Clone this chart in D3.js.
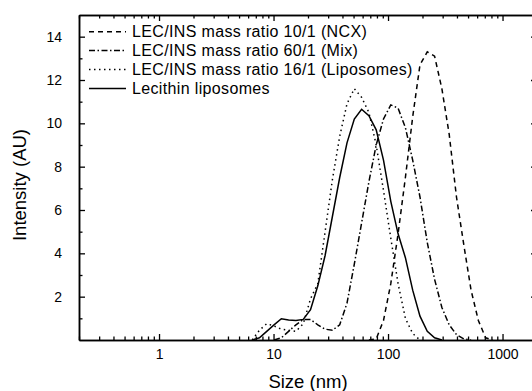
<!DOCTYPE html>
<html>
<head>
<meta charset="utf-8">
<script src="https://cdn.jsdelivr.net/npm/d3@7"></script>
<style>
    body { margin: 0; background: #fff; }
    svg { display: block; font-family: "Liberation Sans", Arial, sans-serif; }
</style>
</head>
<body>
<div id="chart"></div>
<script>
// particle size bins (nm)
const sizes = [6.503, 7.531, 8.721, 10.10, 11.70, 13.54, 15.69, 18.17, 21.04, 24.36, 28.21, 32.67,
    37.84, 43.82, 50.75, 58.77, 68.06, 78.82, 91.28, 105.7, 122.4, 141.8, 164.2, 190.1, 220.2,
    255.0, 295.3, 342.0, 396.1, 458.7, 531.2, 615.1, 712.4, 825.0];

// intensity (AU) per bin, one array per sample
const ncx = [0, 0, 0, 0, 0, 0, 0, 0, 0, 0, 0, 0,
    0, 0, 0, 0, 0, 0.05, 0.9, 2.6, 4.9, 7.5, 10.3, 12.7, 13.3,
    13.1, 11.6, 9.5, 6.6, 4.4, 2.3, 0.9, 0.1, 0];
const mix = [0, 0, 0, 0, 0.1, 0.4, 0.7, 0.95, 0.95, 0.7, 0.5, 0.45,
    0.7, 1.7, 3.5, 5.4, 7.3, 9.0, 10.2, 10.85, 10.7, 9.8, 8.3, 6.6, 4.5,
    2.8, 1.5, 0.7, 0.25, 0.05, 0, 0, 0, 0];
const lipo16 = [0, 0.45, 0.75, 0.65, 0.5, 0.45, 0.4, 0.75, 1.9, 2.6, 5.0, 7.4,
    9.4, 10.9, 11.6, 11.2, 10.5, 9.0, 6.9, 4.7, 2.6, 1.0, 0.3, 0, 0,
    0, 0, 0, 0, 0, 0, 0, 0, 0];
const lecithin = [0, 0.1, 0.4, 0.7, 0.98, 0.92, 0.9, 0.95, 1.4, 2.5, 3.9, 5.7,
    7.5, 9.1, 10.2, 10.65, 10.35, 9.7, 8.3, 6.4, 4.9, 3.8, 2.3, 1.1, 0.4,
    0.1, 0, 0, 0, 0, 0, 0, 0, 0];

const seriesNames = ["LEC/INS mass ratio 10/1 (NCX)", "LEC/INS mass ratio 60/1 (Mix)",
    "LEC/INS mass ratio 16/1 (Liposomes)", "Lecithin liposomes"];
const seriesDash = ["5,4", "6,2.5,1.5,2.5", "1.5,3.5", null];

const xMajor = [1, 10, 100, 1000];
const xMinor = [0.2, 0.3, 0.4, 0.5, 0.6, 0.7, 0.8, 0.9, 2, 3, 4, 5, 6, 7, 8, 9,
    20, 30, 40, 50, 60, 70, 80, 90, 200, 300, 400, 500, 600, 700, 800, 900, 2000];
const yMajor = [2, 4, 6, 8, 10, 12, 14];
const yMinor = [1, 3, 5, 7, 9, 11, 13];

const width = 532, height = 391;
const margin = { top: 15, right: -5, bottom: 51, left: 79 };

let svg = d3.select("#chart").append("svg")
    .attr("width", width)
    .attr("height", height);

let x = d3.scaleLog().domain([0.2, 2000]).range([margin.left, width - margin.right]);
let y = d3.scaleLinear().domain([0, 15]).range([height - margin.bottom, margin.top]);

// frame axes, ticks inward
function styleAxis(g) {
    g.selectAll("path.domain").attr("stroke", "#000").attr("stroke-width", 1.5);
    g.selectAll(".tick line").attr("stroke", "#000").attr("stroke-width", 1.3);
    g.selectAll(".tick text").attr("font-size", 14).attr("fill", "#000")
        .attr("font-family", "'Liberation Sans', Arial, sans-serif");
}

const x0 = margin.left, x1 = width - margin.right, y0 = height - margin.bottom, y1 = margin.top;

svg.append("g").attr("transform", `translate(0,${y0})`)
    .call(d3.axisBottom(x).tickValues(xMajor).tickFormat(d3.format("d")).tickSize(-6).tickSizeOuter(0).tickPadding(9))
    .call(styleAxis);
svg.append("g").attr("transform", `translate(0,${y0})`)
    .call(d3.axisBottom(x).tickValues(xMinor).tickFormat("").tickSize(-3.5).tickSizeOuter(0))
    .call(styleAxis);
svg.append("g").attr("transform", `translate(0,${y1})`)
    .call(d3.axisTop(x).tickValues(xMajor).tickFormat("").tickSize(-6).tickSizeOuter(0))
    .call(styleAxis);
svg.append("g").attr("transform", `translate(0,${y1})`)
    .call(d3.axisTop(x).tickValues(xMinor).tickFormat("").tickSize(-3.5).tickSizeOuter(0))
    .call(styleAxis);

svg.append("g").attr("transform", `translate(${x0},0)`)
    .call(d3.axisLeft(y).tickValues(yMajor).tickSize(-6).tickSizeOuter(0).tickPadding(17))
    .call(styleAxis);
svg.append("g").attr("transform", `translate(${x0},0)`)
    .call(d3.axisLeft(y).tickValues(yMinor).tickFormat("").tickSize(-3.5).tickSizeOuter(0))
    .call(styleAxis);
svg.append("g").attr("transform", `translate(${x1},0)`)
    .call(d3.axisRight(y).tickValues(yMajor).tickFormat("").tickSize(-6).tickSizeOuter(0))
    .call(styleAxis);
svg.append("g").attr("transform", `translate(${x1},0)`)
    .call(d3.axisRight(y).tickValues(yMinor).tickFormat("").tickSize(-3.5).tickSizeOuter(0))
    .call(styleAxis);

// curves
const allSeries = [ncx, mix, lipo16, lecithin];
let line = d3.line()
    .x(d => x(d[0]))
    .y(d => y(d[1]));

allSeries.forEach((vals, i) => {
    // drop zero runs outside the peak, keep one zero on each side
    let pts = sizes.map((s, j) => [s, vals[j]]);
    let first = pts.findIndex(p => p[1] > 0);
    let last = pts.length - 1 - pts.slice().reverse().findIndex(p => p[1] > 0);
    pts = pts.slice(Math.max(first - 1, 0), Math.min(last + 2, pts.length));
    svg.append("path")
        .datum(pts)
        .attr("fill", "none")
        .attr("stroke", "#000")
        .attr("stroke-width", 1.5)
        .attr("stroke-dasharray", seriesDash[i])
        .attr("d", line);
});

// legend
let legend = svg.append("g");
seriesNames.forEach((name, i) => {
    let ly = 31.7 + i * 18.9;
    legend.append("line")
        .attr("x1", 89).attr("x2", 126)
        .attr("y1", ly).attr("y2", ly)
        .attr("stroke", "#000")
        .attr("stroke-width", 1.5)
        .attr("stroke-dasharray", seriesDash[i]);
    legend.append("text")
        .attr("x", 132).attr("y", ly + 5.5)
        .attr("font-size", 16)
        .attr("letter-spacing", 0.35)
        .text(name);
});

// axis titles
svg.append("text")
    .attr("x", 308).attr("y", 388)
    .attr("text-anchor", "middle")
    .attr("font-size", 18.5)
    .text("Size (nm)");

svg.append("text")
    .attr("transform", "translate(26,185) rotate(-90)")
    .attr("text-anchor", "middle")
    .attr("font-size", 18.5)
    .text("Intensity (AU)");
</script>
</body>
</html>
